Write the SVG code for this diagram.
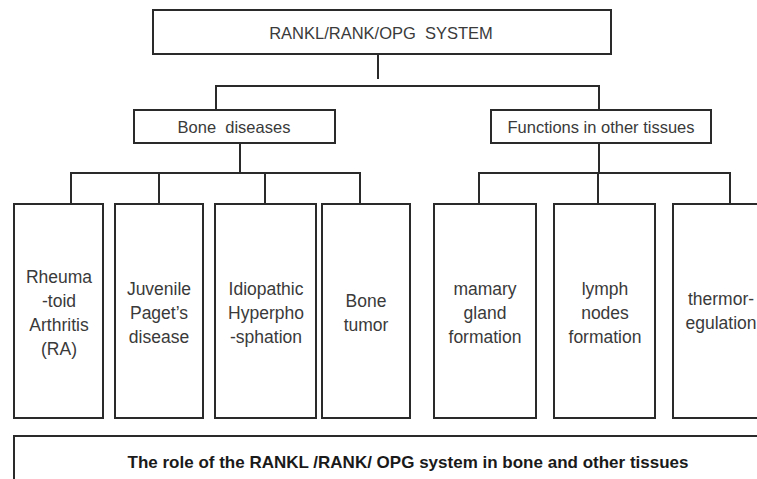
<svg xmlns="http://www.w3.org/2000/svg" width="757" height="479" viewBox="0 0 757 479">
<style>
.box{fill:#fff;stroke:#2a2a2a;stroke-width:2}
.ln{fill:none;stroke:#2a2a2a;stroke-width:2}
text{font-family:"Liberation Sans",Arial,sans-serif;fill:#3a3a3a;text-anchor:middle;white-space:pre}
.t{font-size:17.5px}
.h{font-size:16.5px}
.b{font-size:16.5px;font-weight:bold;fill:#1a1a1a}
</style>
<rect width="757" height="479" fill="#fff"/>
<g id="connectors">
<path class="ln" d="M378 54V79"/>
<path class="ln" d="M216 110V86H599V110"/>
<path class="ln" d="M240 143V173"/>
<path class="ln" d="M71 204V173H360V204M159 173V204M265 173V204"/>
<path class="ln" d="M599 143V173"/>
<path class="ln" d="M479 204V173H730V204M598 173V204"/>
</g>
<g id="root"><rect class="box" x="153" y="10" width="458" height="44"/><text class="h" x="381" y="39" xml:space="preserve">RANKL/RANK/OPG  SYSTEM</text></g>
<g id="bone"><rect class="box" x="134" y="110" width="201" height="33"/><text class="h" x="234" y="133" xml:space="preserve">Bone  diseases</text></g>
<g id="functions"><rect class="box" x="491" y="110" width="220" height="33"/><text class="h" x="601" y="133">Functions in other tissues</text></g>
<g id="ra"><rect class="box" x="14" y="204" width="89" height="214"/><text class="t" x="59" y="283">Rheuma</text><text class="t" x="59" y="307">-toid</text><text class="t" x="59" y="331">Arthritis</text><text class="t" x="59" y="355">(RA)</text></g>
<g id="juvenile"><rect class="box" x="115" y="204" width="88" height="214"/><text class="t" x="159" y="295">Juvenile</text><text class="t" x="159" y="319">Paget’s</text><text class="t" x="159" y="343">disease</text></g>
<g id="idiopathic"><rect class="box" x="215" y="204" width="101" height="214"/><text class="t" x="266" y="295">Idiopathic</text><text class="t" x="266" y="319">Hyperpho</text><text class="t" x="266" y="343">-sphation</text></g>
<g id="tumor"><rect class="box" x="322" y="204" width="88" height="214"/><text class="t" x="366" y="307">Bone</text><text class="t" x="366" y="331">tumor</text></g>
<g id="mamary"><rect class="box" x="434" y="204" width="102" height="214"/><text class="t" x="485" y="295">mamary</text><text class="t" x="485" y="319">gland</text><text class="t" x="485" y="343">formation</text></g>
<g id="lymph"><rect class="box" x="554" y="204" width="101" height="214"/><text class="t" x="605" y="295">lymph</text><text class="t" x="605" y="319">nodes</text><text class="t" x="605" y="343">formation</text></g>
<g id="thermo"><rect class="box" x="673" y="204" width="100" height="214"/><text class="t" x="721" y="305">thermor-</text><text class="t" x="721" y="329">egulation</text></g>
<g id="caption"><rect class="box" x="14" y="436" width="760" height="60"/><text class="b" x="408" y="468" textLength="561" lengthAdjust="spacingAndGlyphs">The role of the RANKL /RANK/ OPG system in bone and other tissues</text></g>
</svg>
